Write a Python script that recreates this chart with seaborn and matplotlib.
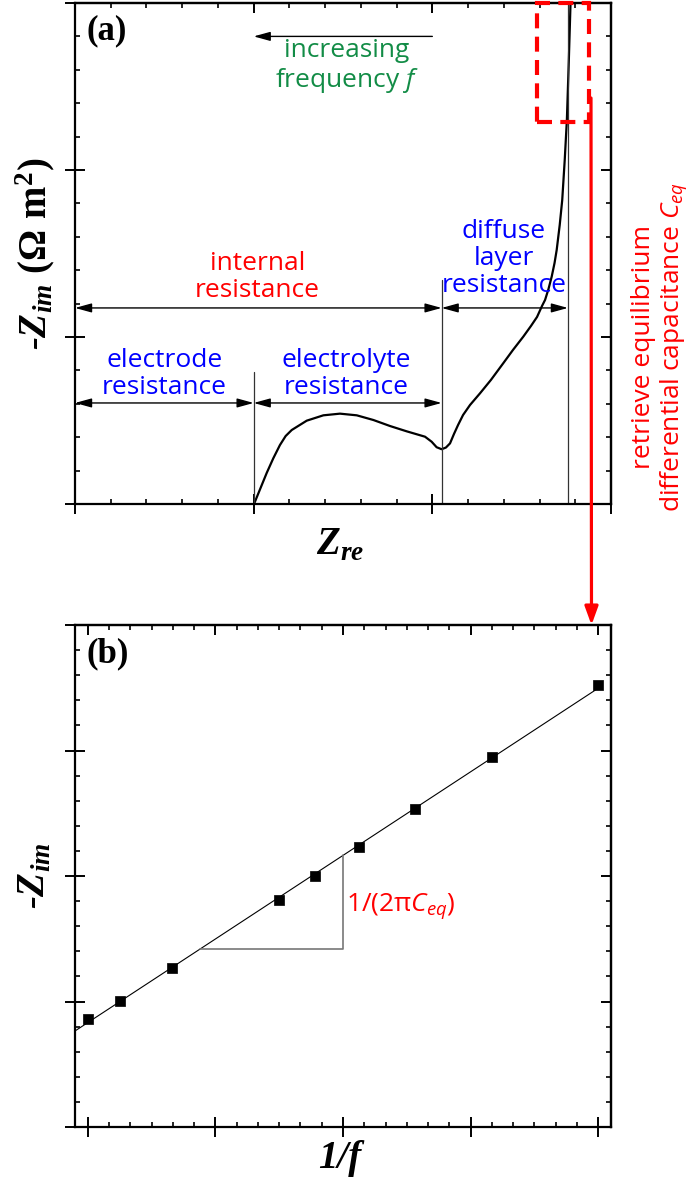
import numpy as np
import pandas as pd
import matplotlib
matplotlib.use("Agg")
import matplotlib.pyplot as plt
import seaborn as sns
from matplotlib.patches import Rectangle
from matplotlib.ticker import MultipleLocator, AutoMinorLocator

# ---- (a) Nyquist plot of the impedance (arbitrary units) ----
z_re = [1.002, 1.073, 1.110, 1.147, 1.179, 1.213, 1.297, 1.390, 1.483, 1.577,
        1.670, 1.763, 1.857, 1.959, 1.996, 2.024, 2.052, 2.076, 2.099, 2.121,
        2.144, 2.172, 2.211, 2.267, 2.328, 2.397, 2.451, 2.509, 2.552, 2.586,
        2.614, 2.631, 2.650, 2.668, 2.684, 2.696, 2.713, 2.727, 2.741, 2.753,
        2.764, 2.774]
z_im = [0.000, 0.186, 0.274, 0.353, 0.407, 0.443, 0.499, 0.531, 0.541, 0.531,
        0.503, 0.467, 0.435, 0.403, 0.373, 0.340, 0.328, 0.338, 0.363, 0.419,
        0.473, 0.533, 0.593, 0.663, 0.743, 0.843, 0.922, 1.002, 1.066, 1.120,
        1.186, 1.222, 1.287, 1.361, 1.443, 1.521, 1.671, 1.820, 2.060, 2.299,
        2.659, 3.018]

# resistance boundaries along Z_re
r_electrode = 1.0
r_internal = 2.052
r_diffuse_end = 2.759

# ---- (b) low-frequency branch: -Z_im against 1/f ----
inv_f = [0.0, 0.250, 0.663, 1.497, 1.777, 2.124, 2.568, 3.165, 4.0]
z_im_lf = [0.861, 1.006, 1.265, 1.809, 2.000, 2.233, 2.534, 2.946, 3.520]

sns.set_theme(style="ticks")
plt.rcParams.update({
    "font.family": ["Open Sans", "DejaVu Sans"],
    "mathtext.fontset": "custom",
    "mathtext.rm": "Open Sans",
    "mathtext.it": "Open Sans:italic",
    "mathtext.bf": "Liberation Serif:bold",
    "mathtext.bfit": "Liberation Serif:italic:bold",
    "axes.edgecolor": "black",
    "axes.linewidth": 1.6,
    "xtick.color": "black",
    "ytick.color": "black",
    "text.color": "black",
    "axes.labelcolor": "black",
    "axes.facecolor": "white",
    "figure.facecolor": "white",
})

RED = "#ff0000"
BLUE = "#0000ff"
GREEN = "#128c46"
TXT = 19
LAB = 28
SERIF = dict(fontfamily="Liberation Serif", fontweight="bold", fontstyle="italic")

fig = plt.figure(figsize=(6.96, 11.8), dpi=100)
W, H = 696, 1180
ax_a = fig.add_axes([75 / W, 1 - 504 / H, 536 / W, 501 / H])
ax_b = fig.add_axes([75 / W, 1 - 1127 / H, 536 / W, 502 / H])


def frame(ax, xmaj, xdiv, ymaj, ydiv):
    ax.xaxis.set_major_locator(MultipleLocator(xmaj))
    ax.xaxis.set_minor_locator(AutoMinorLocator(xdiv))
    ax.yaxis.set_major_locator(MultipleLocator(ymaj))
    ax.yaxis.set_minor_locator(AutoMinorLocator(ydiv))
    ax.tick_params(which="major", direction="inout", length=14, width=1.4,
                   labelbottom=False, labelleft=False)
    ax.tick_params(which="minor", direction="in", length=3.8, width=1.2)
    top = ax.secondary_xaxis("top")
    top.xaxis.set_major_locator(MultipleLocator(xmaj))
    top.xaxis.set_minor_locator(AutoMinorLocator(xdiv))
    top.tick_params(which="major", direction="in", length=7, width=1.4, labeltop=False)
    top.tick_params(which="minor", direction="in", length=3.8, width=1.2)
    right = ax.secondary_yaxis("right")
    right.yaxis.set_major_locator(MultipleLocator(ymaj))
    right.yaxis.set_minor_locator(AutoMinorLocator(ydiv))
    right.tick_params(which="major", direction="in", length=7, width=1.4, labelright=False)
    right.tick_params(which="minor", direction="in", length=3.8, width=1.2)


def dim_arrow(ax, x0, x1, y, style="<|-|>"):
    ax.annotate("", xy=(x1, y), xytext=(x0, y),
                arrowprops=dict(arrowstyle=f"{style},head_length=0.8,head_width=0.22",
                                mutation_scale=12.5, color="black", lw=1.0,
                                shrinkA=0, shrinkB=0))


# ---------------- panel (a) ----------------
ax_a.set_xlim(0, 3)
ax_a.set_ylim(0, 3)
frame(ax_a, 1, 5, 1, 5)
sns.lineplot(x=z_re, y=z_im, sort=False, estimator=None, color="black",
             lw=1.6, ax=ax_a)
for ln in ax_a.lines:
    ln.set_solid_joinstyle("round")

# boundary markers
ax_a.plot([r_electrode, r_electrode], [0, 0.79], color="#333333", lw=0.9)
ax_a.plot([r_internal, r_internal], [0, 1.34], color="#333333", lw=0.9)
ax_a.plot([r_diffuse_end, r_diffuse_end], [0, 3], color="#333333", lw=0.9)

y_low, y_high = 0.605, 1.174
dim_arrow(ax_a, 0, r_electrode, y_low)
dim_arrow(ax_a, r_electrode, r_internal, y_low)
dim_arrow(ax_a, 0, r_internal, y_high)
dim_arrow(ax_a, r_internal, r_diffuse_end, y_high)
dim_arrow(ax_a, 2.0, 1.0, 2.80, style="-|>")

ax_a.text(1.52, 2.62, "increasing\nfrequency $\\mathit{f}$", color=GREEN,
          fontsize=TXT, ha="center", va="center", linespacing=1.1)
ax_a.text(1.02, 1.36, "internal\nresistance", color=RED, fontsize=TXT,
          ha="center", va="center", linespacing=1.1)
ax_a.text(0.50, 0.78, "electrode\nresistance", color=BLUE, fontsize=TXT,
          ha="center", va="center", linespacing=1.1)
ax_a.text(1.52, 0.78, "electrolyte\nresistance", color=BLUE, fontsize=TXT,
          ha="center", va="center", linespacing=1.1)
ax_a.text(2.40, 1.47, "diffuse\nlayer\nresistance", color=BLUE, fontsize=TXT,
          ha="center", va="center", linespacing=1.1)

ax_a.add_patch(Rectangle((2.587, 2.29), 0.29, 0.71, fill=False, ec=RED, lw=3,
                         ls=(0, (3.6, 2.0)), clip_on=False, zorder=5))

ax_a.text(0.022, 0.945, "(a)", transform=ax_a.transAxes, fontsize=25,
          fontfamily="Liberation Serif", fontweight="bold", ha="left", va="center")
ax_a.text(0.494, -0.082, "Z$_{\\mathbfit{re}}$", transform=ax_a.transAxes,
          fontsize=LAB, ha="center", va="center", **SERIF)
ax_a.text(-0.0746, 0.5, "-Z$_{\\mathbfit{im}}$ $\\mathbf{(\\Omega\\ m^{2})}$",
          transform=ax_a.transAxes, fontsize=LAB, rotation=90,
          ha="center", va="center", **SERIF)

fig.text(660 / W, 1 - 347 / H,
         "retrieve equilibrium\ndifferential capacitance $\\mathit{C_{eq}}$",
         color=RED, fontsize=TXT, rotation=90, ha="center", va="center",
         multialignment="center", linespacing=1.1)

# ---------------- panel (b) ----------------
ax_b.set_xlim(-0.1, 4.1)
ax_b.set_ylim(0, 4)
frame(ax_b, 1, 6, 1, 5)

slope, intercept = np.polyfit(inv_f, z_im_lf, 1)
fit = pd.DataFrame({"x": [-0.1, max(inv_f)]})
fit["y"] = intercept + slope * fit["x"]
sns.lineplot(data=fit, x="x", y="y", color="black", lw=0.8, ax=ax_b)
sns.scatterplot(x=inv_f, y=z_im_lf, marker="s", s=62, color="black",
                edgecolor="black", linewidth=0.5, zorder=4, ax=ax_b)

# slope triangle
tri_y = 1.418
tri_x1 = 2.0
tri_x0 = (tri_y - intercept) / slope
ax_b.plot([tri_x0, tri_x1, tri_x1], [tri_y, tri_y, intercept + slope * tri_x1],
          color="#777777", lw=1.2)
ax_b.text(2.02, 1.76, "1/(2π$\\mathit{C_{eq}}$)", color=RED, fontsize=TXT,
          ha="left", va="center")

ax_b.text(0.022, 0.942, "(b)", transform=ax_b.transAxes, fontsize=25,
          fontfamily="Liberation Serif", fontweight="bold", ha="left", va="center")
ax_b.text(0.494, -0.062, "1/f", transform=ax_b.transAxes, fontsize=LAB,
          ha="center", va="center", **SERIF)
ax_b.text(-0.0746, 0.5, "-Z$_{\\mathbfit{im}}$", transform=ax_b.transAxes,
          fontsize=LAB, rotation=90, ha="center", va="center", **SERIF)
ax_a.set_xlabel("")
ax_a.set_ylabel("")
ax_b.set_xlabel("")
ax_b.set_ylabel("")

# red link from the capacitive region of (a) down to (b)
ax_a.annotate("", xy=(591.5 / W, 1 - 625 / H), xytext=(591 / W, 1 - 98 / H),
              xycoords="figure fraction", textcoords="figure fraction",
              arrowprops=dict(arrowstyle="-|>,head_length=1.1,head_width=0.4",
                              mutation_scale=10, color=RED, lw=2.3,
                              shrinkA=0, shrinkB=0),
              annotation_clip=False)

fig.savefig("out.png", dpi=100)
